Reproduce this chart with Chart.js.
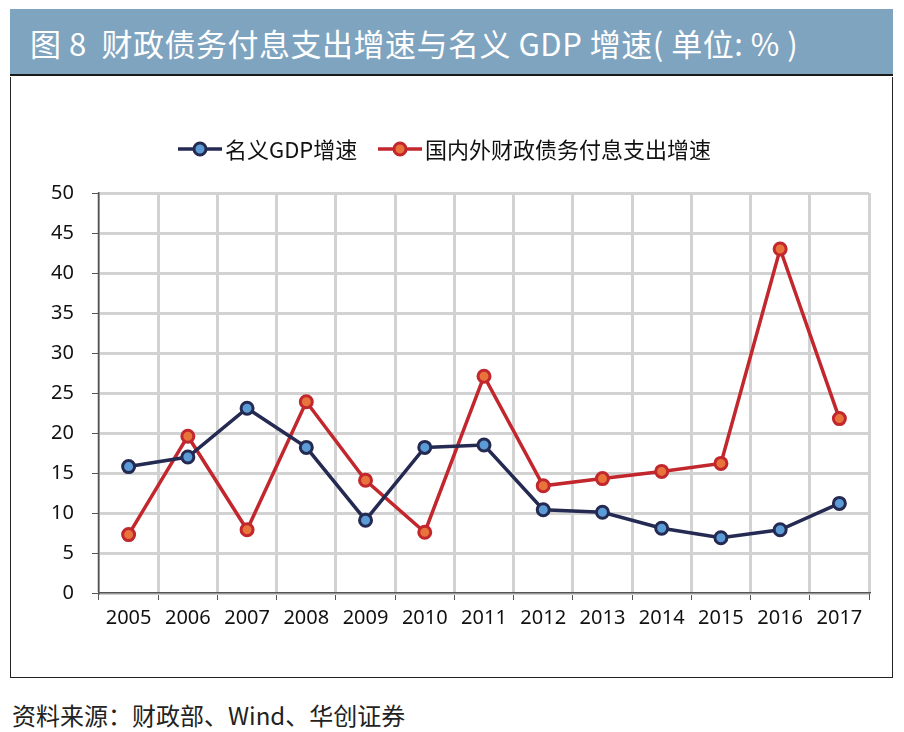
<!DOCTYPE html>
<html>
<head>
<meta charset="utf-8">
<script src="https://cdn.jsdelivr.net/npm/chart.js@4"></script>
<style>
  body { margin: 0; background: #fff; width: 904px; height: 732px; position: relative; overflow: hidden;
         font-family: "Noto Sans CJK SC", "Noto Sans", sans-serif; }
  #header { position: absolute; left: 10px; top: 9px; width: 883px; height: 67px; background: #7fa4bf;
            border-bottom: 2px solid #1a1a1a; color: #fff; font-size: 31px; line-height: 67px;
            padding-left: 20px; box-sizing: border-box; letter-spacing: 0.5px; }
  #box { position: absolute; left: 10px; top: 77px; width: 883px; height: 601px; border: 1px solid #222;
         border-top: none; box-sizing: border-box; }
  #wrap { position: absolute; left: 11px; top: 78px; width: 881px; height: 598px; }
  #source { position: absolute; left: 12px; top: 697px; font-size: 24px; color: #222; }
</style>
</head>
<body>
<div id="header">图 8&nbsp;&nbsp;财政债务付息支出增速与名义 GDP 增速( 单位: % )</div>
<div id="box"></div>
<div id="wrap"><canvas id="chart"></canvas></div>
<div id="source">资料来源：财政部、Wind、华创证券</div>
<script>
// categories and series
const years = ['2005', '2006', '2007', '2008', '2009', '2010', '2011', '2012', '2013', '2014', '2015', '2016', '2017'];
const gdpGrowth = [15.8, 17.0, 23.1, 18.2, 9.1, 18.2, 18.5, 10.4, 10.1, 8.1, 6.9, 7.9, 11.2];
const interestGrowth = [7.3, 19.6, 7.9, 23.9, 14.1, 7.6, 27.1, 13.4, 14.3, 15.2, 16.2, 43.0, 21.8];
const seriesNames = ['名义GDP增速', '国内外财政债务付息支出增速'];
const yTicks = [0, 5, 10, 15, 20, 25, 30, 35, 40, 45, 50];

const navy = '#252a52', blueFill = '#5b9bd6';
const red = '#c1272d', orangeFill = '#e8733b';

// legend drawn as line + marker, like the original
const lineLegend = {
    id: 'lineLegend',
    afterDraw(chart) {
        const ctx = chart.ctx;
        const items = [
            { x: 167, text: seriesNames[0], line: navy, fill: blueFill },
            { x: 367, text: seriesNames[1], line: red, fill: orangeFill }
        ];
        const y = 71;
        ctx.save();
        ctx.font = '22px "Noto Sans CJK SC", sans-serif';
        ctx.textBaseline = 'middle';
        items.forEach(it => {
            ctx.strokeStyle = it.line;
            ctx.lineWidth = 3.5;
            ctx.beginPath();
            ctx.moveTo(it.x, y);
            ctx.lineTo(it.x + 44, y);
            ctx.stroke();
            ctx.beginPath();
            ctx.arc(it.x + 22, y, 6, 0, Math.PI * 2);
            ctx.fillStyle = it.fill;
            ctx.fill();
            ctx.lineWidth = 3;
            ctx.stroke();
            ctx.fillStyle = '#111';
            ctx.fillText(it.text, it.x + 47, y + 1);
        });
        ctx.restore();
    }
};

new Chart(document.getElementById('chart'), {
    type: 'line',
    data: {
        labels: years,
        datasets: [
            {
                label: seriesNames[0], data: gdpGrowth,
                borderColor: navy, borderWidth: 3.5,
                pointBackgroundColor: blueFill, pointBorderColor: navy,
                pointRadius: 6, pointBorderWidth: 3, tension: 0
            },
            {
                label: seriesNames[1], data: interestGrowth,
                borderColor: red, borderWidth: 3.5,
                pointBackgroundColor: orangeFill, pointBorderColor: red,
                pointRadius: 6, pointBorderWidth: 3, tension: 0
            }
        ]
    },
    options: {
        responsive: true,
        maintainAspectRatio: false,
        animation: false,
        layout: { padding: { top: 115, right: 23, left: 0, bottom: 0 } },
        plugins: { legend: { display: false }, tooltip: { enabled: false } },
        scales: {
            x: {
                offset: true,
                grid: { offset: true, color: '#d2d2d2', lineWidth: 3, tickColor: '#555', tickWidth: 1, tickLength: 7 },
                border: { color: '#555', width: 1.5 },
                ticks: { color: '#111', font: { family: 'Noto Sans', size: 20 }, padding: 6, maxRotation: 0, autoSkip: false },
                afterFit(scale) { scale.height = 83; }
            },
            y: {
                min: 0, max: 50,
                afterBuildTicks(scale) { scale.ticks = yTicks.map(v => ({ value: v })); },
                grid: { color: '#d2d2d2', lineWidth: 3, tickColor: '#555', tickWidth: 1, tickLength: 7 },
                border: { color: '#555', width: 1.5 },
                ticks: { color: '#111', font: { family: 'Noto Sans', size: 20 }, padding: 18 },
                afterFit(scale) { scale.width = 88; }
            }
        }
    },
    plugins: [lineLegend]
});
</script>
</body>
</html>
